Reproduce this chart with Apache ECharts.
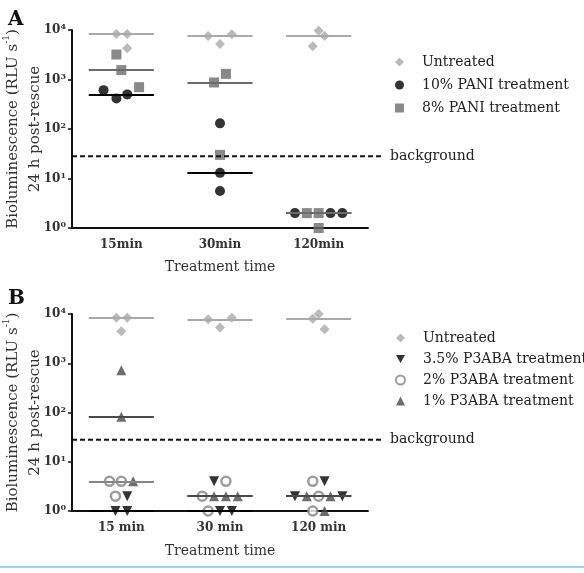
<!DOCTYPE html>
<html>
<head>
<meta charset="utf-8">
<script src="https://cdn.jsdelivr.net/npm/echarts@6/dist/echarts.min.js"></script>
<style>
  html, body { margin: 0; padding: 0; background: #fff; }
  #main { width: 584px; height: 573px; }
</style>
</head>
<body>
<div id="main"></div>
<script>
// categories
const catsA = ["15min", "30min", "120min"]
const catsB = ["15 min", "30 min", "120 min"]

// background threshold (RLU s-1)
const bgLevel = [28]

// panel A: one inner array per category, plus horizontal spread of each dot (in category units)
const aUntreated = [[8300, 8300, 4300], [7600, 5200, 8200], [9700, 7600, 4700]]
const aUntreatedJit = [[-0.05, 0.06, 0.06], [-0.12, 0, 0.12], [0, 0.06, -0.06]]
const aPani10 = [[610, 415, 500], [130, 13, 5.6], [2, 2, 2]]
const aPani10Jit = [[-0.18, -0.05, 0.06], [0, 0, 0], [-0.24, 0.12, 0.24]]
const aPani8 = [[3200, 1550, 700], [870, 1300, 30], [2, 2, 1]]
const aPani8Jit = [[-0.05, 0, 0.18], [-0.06, 0.06, 0], [-0.12, 0, 0]]

// panel B
const bUntreated = [[8400, 8400, 4450], [7800, 5350, 8400], [8000, 10000, 4900]]
const bUntreatedJit = [[-0.05, 0.06, 0], [-0.12, 0, 0.12], [-0.06, 0, 0.06]]
const b35 = [[2, 1, 1], [4, 1, 1], [4, 2, 2]]
const b35Jit = [[0.06, -0.06, 0.06], [-0.06, 0, 0.12], [0.06, -0.24, 0.24]]
const b2 = [[4, 4, 2], [4, 2, 1], [4, 2, 1]]
const b2Jit = [[-0.12, 0, -0.06], [0.06, -0.18, -0.12], [-0.06, 0, -0.06]]
const b1 = [[718, 82, 4], [2, 2, 2], [2, 2, 1]]
const b1Jit = [[0, 0, 0.12], [-0.06, 0.06, 0.18], [-0.12, 0.12, 0.06]]

const FONT = "DejaVu Serif"
const HALF = 0.33 // half width of median bar

function median(arr) {
  const s = [...arr].sort((a, b) => a - b)
  const m = Math.floor(s.length / 2)
  return s.length % 2 ? s[m] : (s[m - 1] + s[m]) / 2
}

function points(values, jit) {
  return values.flatMap((vals, i) => vals.map((v, j) => [i + jit[i][j], v]))
}

function dotSeries(name, values, jit, st, xIdx, yIdx) {
  return {
    name,
    type: "scatter",
    xAxisIndex: xIdx,
    yAxisIndex: yIdx,
    data: points(values, jit),
    symbol: st.symbol,
    symbolSize: st.size,
    symbolRotate: st.rotate || 0,
    symbolKeepAspect: true,
    itemStyle: st.itemStyle,
    emphasis: { disabled: true },
    markLine: {
      silent: true,
      symbol: "none",
      animation: false,
      label: { show: false },
      emphasis: { disabled: true },
      lineStyle: { color: st.line, width: 2, type: "solid" },
      data: values.map((vals, i) => {
        const m = median(vals)
        return [{ coord: [i - HALF, m] }, { coord: [i + HALF, m] }]
      }),
    },
  }
}

function bgSeries(xIdx, yIdx) {
  return {
    type: "line",
    xAxisIndex: xIdx,
    yAxisIndex: yIdx,
    data: [[0, bgLevel[0]], [1, bgLevel[0]]],
    symbol: "none",
    silent: true,
    animation: false,
    lineStyle: { color: "#111", width: 2, type: [5, 3] },
    endLabel: {
      show: true,
      formatter: "background",
      distance: 8,
      fontFamily: FONT,
      fontSize: 14,
      color: "#222",
    },
  }
}

const st = {
  untreated: { symbol: "diamond", size: 10, itemStyle: { color: "#a9a9a9" }, line: "#a9a9a9" },
  pani10: { symbol: "circle", size: 10, itemStyle: { color: "#000" }, line: "#000" },
  pani8: { symbol: "rect", size: 10, itemStyle: { color: "#6b6b6b" }, line: "#6b6b6b" },
  p35: { symbol: "triangle", rotate: 180, size: 10, itemStyle: { color: "#000" }, line: "#000" },
  p2: {
    symbol: "circle", size: 9,
    itemStyle: { color: "#fff", borderColor: "#858585", borderWidth: 2.5 },
    line: "#858585",
  },
  p1: { symbol: "triangle", size: 10, itemStyle: { color: "#4a4a4a" }, line: "#4a4a4a" },
}

const gridBase = { outerBoundsMode: "none", containLabel: false, left: 72 }
const grids = [
  { ...gridBase, top: 30, width: 296, height: 198 },
  { ...gridBase, top: 30, width: 310, height: 198 },
  { ...gridBase, top: 314, width: 296, height: 197 },
  { ...gridBase, top: 314, width: 310, height: 197 },
]

function catAxis(data, gridIndex, nameGap) {
  return {
    type: "category",
    gridIndex,
    data,
    boundaryGap: true,
    name: "Treatment time",
    nameLocation: "middle",
    nameGap,
    nameTextStyle: { fontFamily: FONT, fontSize: 14, color: "#333" },
    axisLine: { onZero: false, lineStyle: { color: "#111", width: 2 } },
    axisTick: { alignWithLabel: true, length: 5, lineStyle: { color: "#111", width: 1.5 } },
    axisLabel: { fontFamily: FONT, fontSize: 12, fontWeight: "bold", color: "#333", margin: 11 },
    splitLine: { show: false },
  }
}

function hiddenValueX(gridIndex, min, max) {
  return { type: "value", gridIndex, min, max, show: false }
}

function logAxis(gridIndex, visible) {
  return {
    type: "log",
    logBase: 10,
    gridIndex,
    min: 1,
    max: 10000,
    show: visible,
    position: "left",
    name: visible
      ? "{t|Bioluminescence (RLU s}{sup|-1}{t|)}\n{t|24 h post-rescue}"
      : "",
    nameLocation: "middle",
    nameRotate: 90,
    nameGap: 26,
    nameMoveOverlap: false,
    nameTextStyle: {
      rich: {
        t: { fontFamily: FONT, fontSize: 15, color: "#333", lineHeight: 22 },
        sup: { fontFamily: FONT, fontSize: 9, color: "#333", verticalAlign: "top", lineHeight: 22 },
      },
    },
    axisLine: { show: true, onZero: false, lineStyle: { color: "#111", width: 2 } },
    axisTick: { show: true, length: 4, lineStyle: { color: "#111", width: 1.5 } },
    splitLine: { show: false },
    axisLabel: {
      margin: 6,
      formatter: v => `{b|10}{s|${Math.round(Math.log10(v))}}`,
      rich: {
        b: { fontFamily: FONT, fontSize: 12, fontWeight: "bold", color: "#333", lineHeight: 14 },
        s: { fontFamily: FONT, fontSize: 8, fontWeight: "bold", color: "#333", verticalAlign: "top", lineHeight: 14 },
      },
    },
  }
}

const legendBase = {
  orient: "vertical",
  left: 390,
  itemWidth: 9,
  itemHeight: 9,
  symbolKeepAspect: true,
  selectedMode: false,
  textStyle: { fontFamily: FONT, fontSize: 14, color: "#222", padding: [0, 0, 0, 13] },
}

const option = {
  backgroundColor: "#fff",
  animation: false,
  title: [
    { text: "A", left: 3, top: 5, textStyle: { fontFamily: FONT, fontSize: 20, fontWeight: "bold", color: "#111" } },
    { text: "B", left: 3, top: 284, textStyle: { fontFamily: FONT, fontSize: 20, fontWeight: "bold", color: "#111" } },
  ],
  legend: [
    { ...legendBase, top: 50, itemGap: 9, data: ["Untreated", "10% PANI treatment", "8% PANI treatment"] },
    {
      ...legendBase,
      top: 326,
      itemGap: 7,
      data: [
        "Untreated",
        { name: "3.5% P3ABA treatment", icon: "path://M0,0L10,0L5,9Z" },
        "2% P3ABA treatment",
        "1% P3ABA treatment",
      ],
    },
  ],
  grid: grids,
  xAxis: [
    catAxis(catsA, 0, 32),
    hiddenValueX(0, -0.5, 2.5),
    hiddenValueX(1, 0, 1),
    catAxis(catsB, 2, 33),
    hiddenValueX(2, -0.5, 2.5),
    hiddenValueX(3, 0, 1),
  ],
  yAxis: [logAxis(0, true), logAxis(1, false), logAxis(2, true), logAxis(3, false)],
  graphic: [
    { type: "rect", left: 0, top: 566, shape: { width: 584, height: 2 }, style: { fill: "#8fd6f0" }, silent: true },
  ],
  series: [
    bgSeries(2, 1),
    dotSeries("Untreated", aUntreated, aUntreatedJit, st.untreated, 1, 0),
    dotSeries("10% PANI treatment", aPani10, aPani10Jit, st.pani10, 1, 0),
    dotSeries("8% PANI treatment", aPani8, aPani8Jit, st.pani8, 1, 0),
    bgSeries(5, 3),
    dotSeries("Untreated", bUntreated, bUntreatedJit, st.untreated, 4, 2),
    dotSeries("3.5% P3ABA treatment", b35, b35Jit, st.p35, 4, 2),
    dotSeries("2% P3ABA treatment", b2, b2Jit, st.p2, 4, 2),
    dotSeries("1% P3ABA treatment", b1, b1Jit, st.p1, 4, 2),
  ],
}

const chart = echarts.init(document.getElementById("main"))
chart.setOption(option)
</script>
</body>
</html>
